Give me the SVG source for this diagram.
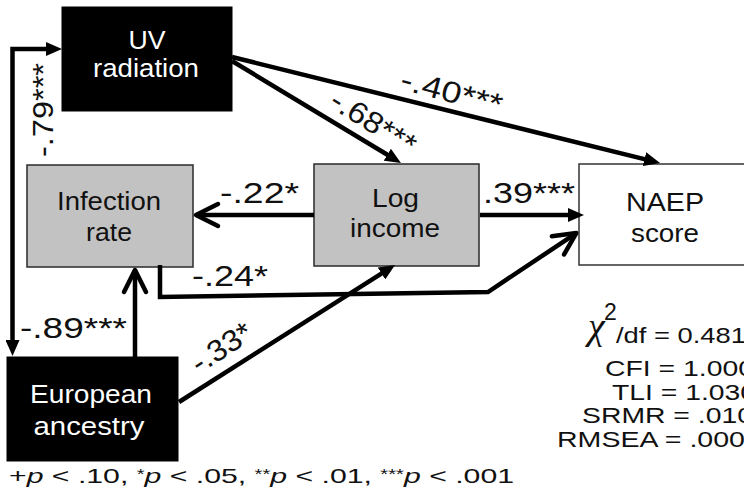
<svg xmlns="http://www.w3.org/2000/svg" width="744" height="497" viewBox="0 0 744 497">
<style>
text{font-family:"Liberation Sans",Arial,sans-serif;fill:#111}
.box{font-size:25px;text-anchor:middle}
.wt{fill:#fff}
.lab{font-size:30px}
.stat{font-size:22px}
.foot{font-size:21px}
.grey{fill:#c2c2c2;stroke:#2a2a2a;stroke-width:1.5}
.blk{fill:#000;stroke:#000;stroke-width:1}
.wht{fill:#fff;stroke:#333;stroke-width:1.5}
.ln{fill:none;stroke:#000;stroke-width:4.5;stroke-linejoin:miter}
</style>
<defs>
<marker id="tri" viewBox="0 0 16 14" refX="4" refY="7" markerWidth="16" markerHeight="14" markerUnits="userSpaceOnUse" orient="auto-start-reverse">
<path d="M0,0 L16,7 L0,14 z" fill="#000"/>
</marker>
<marker id="vee" viewBox="-3 -3 30 28" refX="22" refY="11" markerWidth="30" markerHeight="28" markerUnits="userSpaceOnUse" orient="auto" overflow="visible">
<path d="M0,0 L22,11 L0,22" fill="none" stroke="#000" stroke-width="4.5" stroke-linejoin="round" stroke-linecap="round"/>
</marker>
</defs>

<g id="uv">
<rect class="blk" x="62" y="7" width="170" height="104"/>
<text class="box wt" x="147" y="49" textLength="37" lengthAdjust="spacingAndGlyphs">UV</text>
<text class="box wt" x="146" y="77" textLength="106" lengthAdjust="spacingAndGlyphs">radiation</text>
</g>
<g id="infection">
<rect class="grey" x="27" y="165" width="166" height="102"/>
<text class="box" x="109" y="210" textLength="104" lengthAdjust="spacingAndGlyphs">Infection</text>
<text class="box" x="109" y="241" textLength="46" lengthAdjust="spacingAndGlyphs">rate</text>
</g>
<g id="income">
<rect class="grey" x="314" y="164" width="165" height="102"/>
<text class="box" x="395.5" y="207" textLength="47" lengthAdjust="spacingAndGlyphs">Log</text>
<text class="box" x="395" y="237" textLength="90" lengthAdjust="spacingAndGlyphs">income</text>
</g>
<g id="naep">
<rect class="wht" x="579" y="164" width="200" height="101"/>
<text class="box" x="665" y="211" textLength="78" lengthAdjust="spacingAndGlyphs">NAEP</text>
<text class="box" x="665" y="242" textLength="68" lengthAdjust="spacingAndGlyphs">score</text>
</g>
<g id="european">
<rect class="blk" x="7" y="357" width="171" height="104"/>
<text class="box wt" x="91" y="403" textLength="122" lengthAdjust="spacingAndGlyphs">European</text>
<text class="box wt" x="89" y="435" textLength="111" lengthAdjust="spacingAndGlyphs">ancestry</text>
</g>

<g id="connectors">
<path class="ln" d="M50,49 H12.5 V344" stroke-width="4" marker-start="url(#tri)" marker-end="url(#tri)"/>
<path class="ln" d="M232,57 L648.4,160.1" marker-end="url(#tri)"/>
<path class="ln" d="M232,61 L390.7,156.8" marker-end="url(#tri)"/>
<path class="ln" d="M480,215 H572" marker-end="url(#tri)"/>
<path class="ln" d="M314,215 H196" marker-end="url(#vee)"/>
<path class="ln" d="M135,357 V270" marker-end="url(#vee)"/>
<path class="ln" d="M160,265 V297 L488,292 L576.3,233.1" marker-end="url(#vee)"/>
<path class="ln" d="M179,402 L384.9,271.4" marker-end="url(#tri)"/>

<text class="lab" transform="translate(53,157) rotate(-90)" textLength="94" lengthAdjust="spacingAndGlyphs">-.79***</text>
<text class="lab" transform="translate(449,102) rotate(15)" text-anchor="middle" textLength="104" lengthAdjust="spacingAndGlyphs">-.40***</text>
<text class="lab" transform="translate(368,131) rotate(32)" text-anchor="middle" textLength="95" lengthAdjust="spacingAndGlyphs">-.68***</text>
<text class="lab" x="220" y="203" textLength="79" lengthAdjust="spacingAndGlyphs">-.22*</text>
<text class="lab" x="483" y="203" textLength="92" lengthAdjust="spacingAndGlyphs">.39***</text>
<text class="lab" x="192" y="286" textLength="76" lengthAdjust="spacingAndGlyphs">-.24*</text>
<text class="lab" x="20" y="338" textLength="107" lengthAdjust="spacingAndGlyphs">-.89***</text>
<text class="lab" transform="translate(227,356) rotate(-33)" text-anchor="middle" textLength="67" lengthAdjust="spacingAndGlyphs">-.33*</text>
</g>

<g id="fit">
<text x="588" y="339" style="font-family:'Liberation Serif',serif;font-size:38px;font-style:italic">χ</text>
<text x="604" y="320" style="font-size:23px">2</text>
<text class="stat" x="616" y="343" textLength="130" lengthAdjust="spacingAndGlyphs">/df = 0.481</text>
<text class="stat" x="605" y="376" textLength="149" lengthAdjust="spacingAndGlyphs">CFI = 1.000</text>
<text class="stat" x="612" y="400" textLength="144" lengthAdjust="spacingAndGlyphs">TLI = 1.030</text>
<text class="stat" x="582" y="423" textLength="171" lengthAdjust="spacingAndGlyphs">SRMR = .010</text>
<text class="stat" x="557" y="447" textLength="188" lengthAdjust="spacingAndGlyphs">RMSEA = .000</text>
</g>

<text class="foot" x="9" y="483" textLength="505" lengthAdjust="spacingAndGlyphs">+<tspan font-style="italic">p</tspan> &lt; .10, <tspan font-size="14" dy="-4">*</tspan><tspan font-style="italic" dy="4">p</tspan> &lt; .05, <tspan font-size="14" dy="-4">**</tspan><tspan font-style="italic" dy="4">p</tspan> &lt; .01, <tspan font-size="14" dy="-4">***</tspan><tspan font-style="italic" dy="4">p</tspan> &lt; .001</text>
</svg>
